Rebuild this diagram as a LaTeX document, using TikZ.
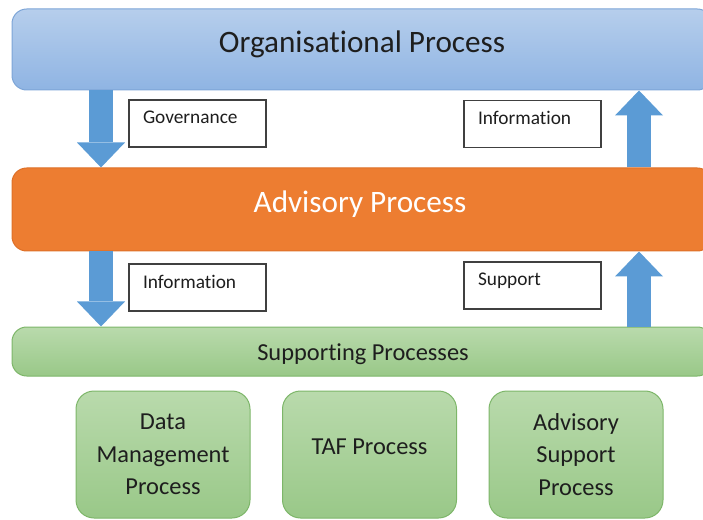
\documentclass[tikz,border=0pt]{standalone}
\usepackage{fontspec}
\setmainfont{Carlito}[Ligatures=NoCommon]
\usetikzlibrary{arrows.meta}

\definecolor{orgtop}{RGB}{182,206,236}
\definecolor{orgbot}{RGB}{143,180,227}
\definecolor{orgline}{RGB}{125,165,215}
\definecolor{advfill}{RGB}{237,125,49}
\definecolor{advline}{RGB}{222,112,40}
\definecolor{suptop}{RGB}{185,218,172}
\definecolor{supbot}{RGB}{153,200,136}
\definecolor{supline}{RGB}{125,182,105}
\definecolor{flowblue}{RGB}{91,155,213}
\definecolor{boxline}{RGB}{64,64,64}
\definecolor{textdark}{RGB}{30,30,30}

\tikzset{every picture/.style={line width=0.75pt}}
\tikzset{
  bar/.style={rectangle, rounded corners=11pt, minimum width=525pt, inner sep=0pt},
  bartext/.style={anchor=base, inner sep=0pt, text=textdark},
  procbox/.style={rectangle, rounded corners=13.5pt, draw=supline, top color=suptop, bottom color=supbot,
    minimum width=130.5pt, minimum height=95.25pt, inner sep=0pt, align=center, text=textdark,
    font=\fontsize{18.3}{24.4}\selectfont},
  notebox/.style={rectangle, draw=boxline, line width=1pt, fill=white, inner xsep=10.5pt, inner ysep=0pt,
    text width=81.75pt, align=left, text height=18pt, text depth=17.25pt, text=textdark,
    font=\fontsize{14.5}{17}\selectfont},
  flow/.style={draw=flowblue, line width=18pt, -{Triangle[width=36pt,length=18.75pt,line width=0pt]}}
}

\begin{document}
\begin{tikzpicture}[x=0.75pt,y=0.75pt,yscale=-1,xscale=1]
    \useasboundingbox (0,0) rectangle (703,520);
    
    % arrow columns
    \coordinate (lcol) at (101,0);
    \coordinate (rcol) at (639,0);
    
    % Bars
    \node[bar, draw=orgline, top color=orgtop, bottom color=orgbot, minimum height=60.75pt] (org) at (362,49.5) {};
    \node[bar, draw=advline, fill=advfill, minimum height=62.25pt] (adv) at (362,209.5) {};
    \node[bar, draw=supline, top color=suptop, bottom color=supbot, minimum height=36.75pt] (sup) at (362,351.5) {};
    
    % Text Node
    \node[bartext, font=\fontsize{23.4}{28}\selectfont] (orgtext) at (362,53) {Organisational Process};
    % Text Node
    \node[bartext, text=white, font=\fontsize{23.4}{28}\selectfont] (advtext) at (360,213) {Advisory Process};
    % Text Node
    \node[bartext, font=\fontsize{18.3}{22}\selectfont] (suptext) at (363,360) {Supporting Processes};
    
    % Block arrows
    \draw[flow] (org.south -| lcol) -- (adv.north -| lcol);
    \draw[flow] (adv.north -| rcol) -- (org.south -| rcol);
    \draw[flow] (adv.south -| lcol) -- (sup.north -| lcol);
    \draw[flow] (sup.north -| rcol) -- (adv.south -| rcol);
    
    % Note boxes
    \node[notebox] (gov) at (197.5,123.5) {Governance};
    \node[notebox] (infoup) at (532.5,124) {Information};
    \node[notebox] (infodown) at (197.5,287.5) {Information};
    \node[notebox] (support) at (532.5,285.5) {Support};
    
    % Supporting process boxes
    \node[procbox] (dmp) at (163,454.5) {Data\\Management\\Process};
    \node[procbox, text depth=11pt] (taf) at (369.5,454.5) {TAF Process};
    \node[procbox] (asp) at (576,454.5) {Advisory\\Support\\Process};
    
\end{tikzpicture}
\end{document}
